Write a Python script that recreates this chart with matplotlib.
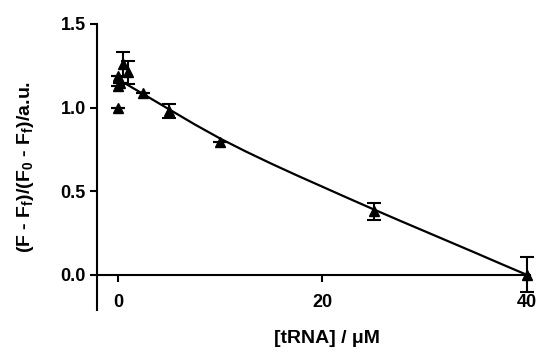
import numpy as np
import matplotlib
matplotlib.use('Agg')
import matplotlib.pyplot as plt

plt.rcParams['font.family'] = ['Liberation Sans', 'DejaVu Sans']
plt.rcParams['font.weight'] = 'bold'
plt.rcParams['mathtext.fontset'] = 'custom'
plt.rcParams['mathtext.bf'] = 'Liberation Sans:bold'
plt.rcParams['mathtext.it'] = 'Liberation Sans:bold:italic'
plt.rcParams['mathtext.rm'] = 'Liberation Sans:bold'
plt.rcParams['mathtext.default'] = 'bf'

# measured points (mean, SD where shown)
tRNA = [0, 0, 0, 0.25, 0.5, 1.0, 2.5, 5, 10, 25, 40]
signal = [1.0, 1.13, 1.19, 1.15, 1.26, 1.21, 1.09, 0.98, 0.795, 0.38, 0.0]
sd = [0, 0, 0, 0, 0.075, 0.07, 0, 0.04, 0, 0.05, 0.105]

# fitted curve
fit_x = [0, 2.5, 5, 7.5, 10, 12.5, 15, 17.5, 20, 22.5, 25, 27.5, 30, 32.5, 35, 37.5, 40]
fit_y = [1.17, 1.08, 0.99, 0.90, 0.815, 0.738, 0.665, 0.595, 0.527, 0.459, 0.392,
         0.326, 0.261, 0.196, 0.131, 0.065, 0.0]

xticks = [0, 20, 40]
yticks = [0.0, 0.5, 1.0, 1.5]

fig = plt.figure(figsize=(5.43, 3.56), dpi=100)
ax = fig.add_axes([0.1786, 0.1292, 0.7974, 0.8034])

ax.plot(fit_x, fit_y, color='black', lw=1.6, clip_on=False, zorder=2)
ax.errorbar(tRNA, signal, yerr=sd, fmt='^', color='black', ms=7, elinewidth=1.5,
            capsize=5, capthick=1.5, clip_on=False, zorder=3)

ax.set_xlim(-2.05, 40.3)
ax.set_ylim(-0.21, 1.5)
ax.set_xticks(xticks)
ax.set_yticks(yticks)
ax.set_yticklabels(['%.1f' % v for v in yticks])

#prism style axes
ax.spines['top'].set_visible(False)
ax.spines['right'].set_visible(False)
ax.spines['bottom'].set_position(('data', 0))
for s in ['left', 'bottom']:
    ax.spines[s].set_linewidth(1.5)
ax.tick_params(width=1.5, length=5, labelsize=13, pad=3)
ax.tick_params(axis='x', pad=9)
for lab in ax.get_xticklabels() + ax.get_yticklabels():
    lab.set_fontweight('bold')

ax.set_xlabel('[tRNA] / μM', fontsize=14, fontweight='bold')
ax.set_ylabel(r'(F - F$_{f}$)/(F$_{0}$ - F$_{f}$)/a.u.', fontsize=14, fontweight='bold')
ax.xaxis.set_label_coords(0.53, -0.07)
ax.yaxis.set_label_coords(-0.14, 0.5)

fig.savefig('out.png', dpi=100)
